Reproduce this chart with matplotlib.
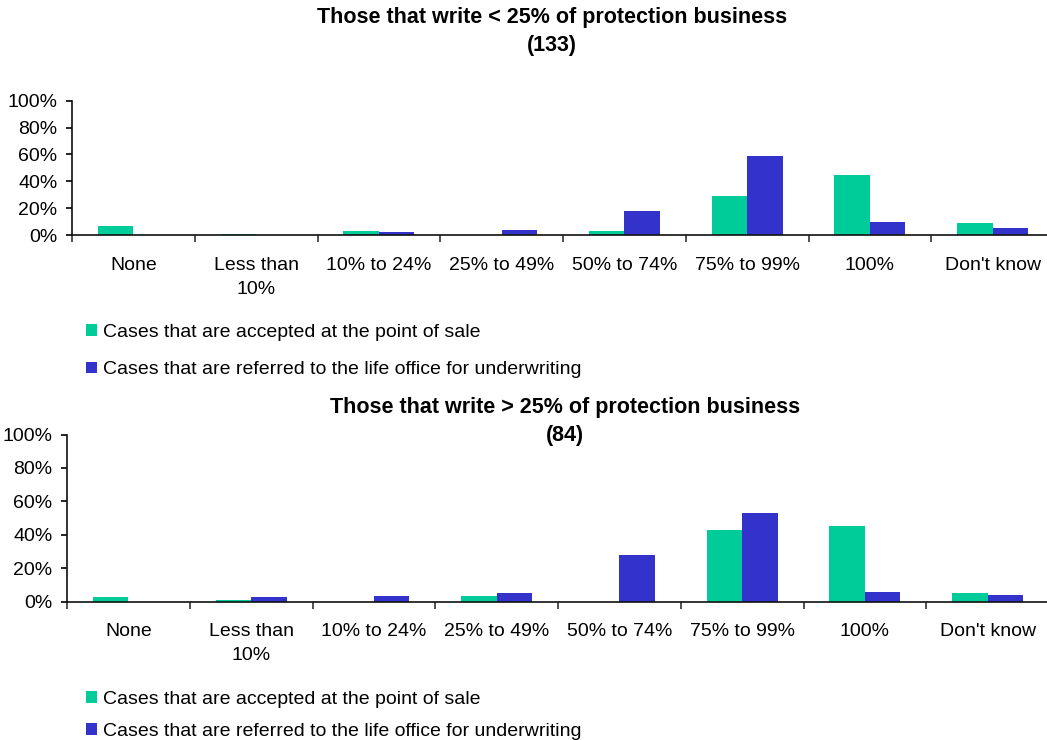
import matplotlib
matplotlib.use("Agg")
import matplotlib.pyplot as plt
import numpy as np

plt.rcParams['font.family'] = ['Liberation Sans', 'DejaVu Sans']

categories = ["None", "Less than\n10%", "10% to 24%", "25% to 49%",
              "50% to 74%", "75% to 99%", "100%", "Don't know"]
series_names = ["Cases that are accepted at the point of sale",
                "Cases that are referred to the life office for underwriting"]

# Those that write < 25% of protection business (base 133)
low_accepted = [7, 1, 3, 0, 3, 29, 45, 9]
low_referred = [0, 0, 2, 4, 18, 59, 10, 5]

# Those that write > 25% of protection business (base 84)
high_accepted = [3, 1, 0, 3.5, 0, 43, 45, 5]
high_referred = [0, 3, 3.5, 5, 28, 53, 6, 4]

GREEN = "#00CC99"
BLUE = "#3333CC"
W, H = 1047, 740
FS = 14
TFS = 15.5

fig = plt.figure(figsize=(W / 100, H / 100), dpi=100)


def px_axes(left, top, right, bottom):
    return fig.add_axes([left / W, 1 - bottom / H, (right - left) / W, (bottom - top) / H])


def draw_panel(ax, accepted, referred):
    x = np.arange(len(categories))
    bw = 0.29
    ax.bar(x - bw / 2, np.array(accepted) / 100, bw, color=GREEN, label=series_names[0], zorder=2)
    ax.bar(x + bw / 2, np.array(referred) / 100, bw, color=BLUE, label=series_names[1], zorder=2)
    ax.set_xlim(-0.5, len(categories) - 0.5)
    ax.set_ylim(0, 1)
    ax.set_yticks(np.linspace(0, 1, 6))
    ax.set_yticklabels([f"{int(v)}%" for v in np.linspace(0, 100, 6)])
    ax.set_xticks(np.arange(len(categories) + 1) - 0.5)
    ax.set_xticklabels([])
    ax.set_xticks(x, minor=True)
    ax.set_xticklabels(categories, minor=True, linespacing=1.55)
    ax.tick_params(axis='x', which='major', direction='out', length=5, width=1.2, color='#333333')
    ax.tick_params(axis='x', which='minor', length=0, pad=15.5, labelsize=FS)
    ax.tick_params(axis='y', direction='out', length=4.5, width=1.2, pad=6, labelsize=FS)
    for side in ('top', 'right'):
        ax.spines[side].set_visible(False)
    for side in ('left', 'bottom'):
        ax.spines[side].set_linewidth(1.2)
        ax.spines[side].set_color('#111111')
    ax.spines['bottom'].set_zorder(3)
    ax.patch.set_alpha(0)
    return ax


ax1 = draw_panel(px_axes(72, 100.7, 1054, 235), low_accepted, low_referred)
ax2 = draw_panel(px_axes(67, 434.5, 1049, 601.7), high_accepted, high_referred)

fig.text(552 / W, 1 - 17 / H, "Those that write < 25% of protection business",
         ha='center', va='center', fontsize=TFS, fontweight='bold')
fig.text(552 / W, 1 - 46 / H, "(133)", ha='center', va='center', fontsize=TFS, fontweight='bold')
fig.text(565 / W, 1 - 408 / H, "Those that write > 25% of protection business",
         ha='center', va='center', fontsize=TFS, fontweight='bold')
fig.text(565 / W, 1 - 436 / H, "(84)", ha='center', va='center', fontsize=TFS, fontweight='bold')

for ax, top_px, spacing in ((ax1, 324, 1.05), (ax2, 691, 0.75)):
    h, l = ax.get_legend_handles_labels()
    fig.legend(h, l, loc='upper left', bbox_to_anchor=(86 / W, 1 - top_px / H),
               frameon=False, fontsize=FS, handlelength=0.55, handleheight=0.55,
               handletextpad=0.3, labelspacing=spacing, borderaxespad=0, borderpad=0)

fig.savefig("out.png", dpi=100)
